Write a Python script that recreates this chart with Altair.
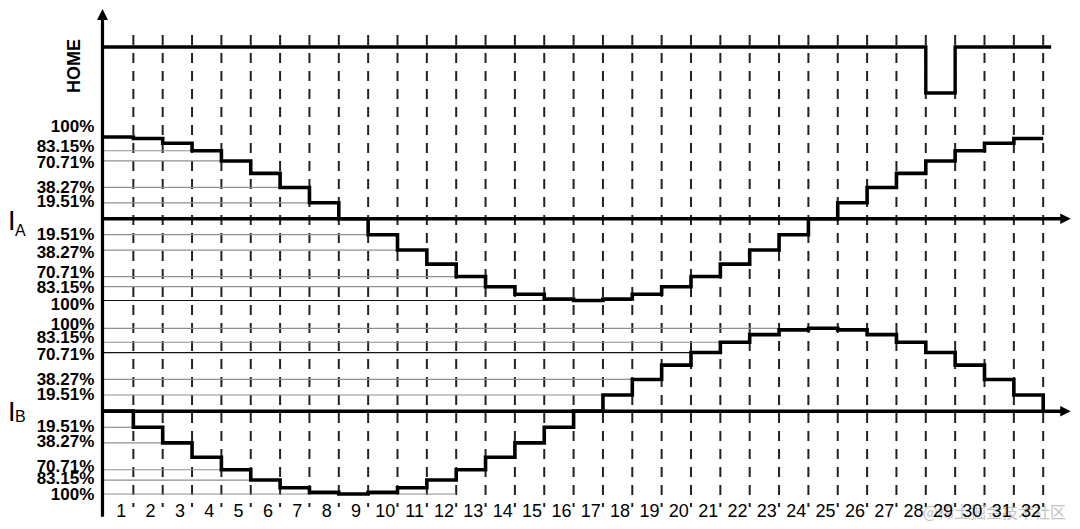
import altair as alt
import pandas as pd

# ---------------- data ----------------
steps = list(range(1, 33))
step_labels = [str(s) for s in steps]

home_level = [1] * 28 + [0] + [1] * 3

ia_pct = [100, 98.08, 92.39, 83.15, 70.71, 55.56, 38.27, 19.51, 0,
          -19.51, -38.27, -55.56, -70.71, -83.15, -92.39, -98.08, -100,
          -98.08, -92.39, -83.15, -70.71, -55.56, -38.27, -19.51, 0,
          19.51, 38.27, 55.56, 70.71, 83.15, 92.39, 98.08]
ib_pct = [0, -19.51, -38.27, -55.56, -70.71, -83.15, -92.39, -98.08, -100,
          -98.08, -92.39, -83.15, -70.71, -55.56, -38.27, -19.51, 0,
          19.51, 38.27, 55.56, 70.71, 83.15, 92.39, 98.08, 100,
          98.08, 92.39, 83.15, 70.71, 55.56, 38.27, 19.51]

level_values = [100, 83.15, 70.71, 38.27, 19.51, -19.51, -38.27, -70.71, -83.15, -100]
level_labels = ["100%", "83.15%", "70.71%", "38.27%", "19.51%",
                "19.51%", "38.27%", "70.71%", "83.15%", "100%"]

# reference lines: level and the step boundary where each one stops
ia_grid_levels = [83.15, 70.71, 38.27, 19.51, -19.51, -38.27, -70.71, -83.15, -100]
ia_grid_end = [3, 4, 6, 7, 9, 10, 12, 13, 18]
ib_grid_levels = [100, 83.15, 70.71, 38.27, 19.51, -19.51, -38.27, -70.71, -83.15, -100]
ib_grid_end = [23, 21, 20, 18, 17, 1, 2, 4, 5, 12]

# ---------------- layout / style ----------------
W, H = 1064, 513
X = alt.Scale(domain=[-3.2709, 32.9813], nice=False, zero=False)
DOM_H = [-9.30435, 1.84783]
DOM_A = [-369.725, 257.798]
DOM_B = [-132.59, 486.6]
PPU_A = 0.8175
PPU_B = 0.8285
# pixel nudges of the percent labels (label centre minus line)
nudge_a = [-10.3, -3.8, 2.1, 0.5, -0.8, 0.3, 2.7, -3.3, 1.0, 4.5]
nudge_b = [-3.3, -4.0, 2.4, 0.6, 0.0, -0.6, -1.2, -3.0, -0.7, 1.0]

FONT = "Liberation Sans"


def ys(dom):
    return alt.Scale(domain=dom, nice=False, zero=False)


one = pd.DataFrame({"d": [0]})

home_df = pd.DataFrame({
    "x": [s - 1 for s in steps] + [32, 32.27],
    "v": home_level + [home_level[-1], home_level[-1]],
})
ia_df = pd.DataFrame({"x": [s - 1 for s in steps] + [32], "v": ia_pct + [ia_pct[-1]]})
ib_df = pd.DataFrame({"x": [s - 1 for s in steps] + [32], "v": ib_pct + [0]})

bound_df = pd.DataFrame({"k": steps})
num_df = pd.DataFrame({"c": [s - 0.5 for s in steps], "num": step_labels})

ia_grid = pd.DataFrame({"level": ia_grid_levels, "end": ia_grid_end, "x0": 0})
ib_grid = pd.DataFrame({"level": ib_grid_levels, "end": ib_grid_end, "x0": 0})

lab_a = pd.DataFrame({"lab": level_labels,
                      "ly": [v - n / PPU_A for v, n in zip(level_values, nudge_a)]})
lab_b = pd.DataFrame({"lab": level_labels,
                      "ly": [v - n / PPU_B for v, n in zip(level_values, nudge_b)]})

layers = []

# dashed step boundaries
layers.append(
    alt.Chart(bound_df).mark_rule(strokeDash=[10, 8], strokeWidth=2, color="#222222")
    .encode(x=alt.X("k:Q", scale=X, axis=None), y=alt.value(27), y2=alt.value(499))
)

# grid lines
layers.append(
    alt.Chart(ia_grid).mark_rule(strokeWidth=1.2)
    .encode(x=alt.X("x0:Q", scale=X, axis=None), x2="end:Q",
            y=alt.Y("level:Q", scale=ys(DOM_A), axis=None),
            color=alt.condition("datum.level == -100", alt.value("#111111"), alt.value("#909090")))
)
layers.append(
    alt.Chart(ib_grid).mark_rule(strokeWidth=1.2)
    .encode(x=alt.X("x0:Q", scale=X, axis=None), x2="end:Q",
            y=alt.Y("level:Q", scale=ys(DOM_B), axis=None),
            color=alt.condition("datum.level == 70.71", alt.value("#111111"), alt.value("#909090")))
)

# horizontal axes of I_A and I_B
layers.append(
    alt.Chart(pd.DataFrame({"level": [0]})).mark_rule(strokeWidth=3.5, color="black")
    .encode(x=alt.value(93), x2=alt.value(1055),
            y=alt.Y("level:Q", scale=ys(DOM_A), axis=None))
)
layers.append(
    alt.Chart(pd.DataFrame({"level": [0]})).mark_rule(strokeWidth=3.5, color="black")
    .encode(x=alt.value(93), x2=alt.value(1055),
            y=alt.Y("level:Q", scale=ys(DOM_B), axis=None))
)

# left vertical axis
layers.append(
    alt.Chart(one).mark_rule(strokeWidth=3.2, color="black")
    .encode(x=alt.value(94.5), y=alt.value(10), y2=alt.value(508.7))
)

# arrow heads
layers.append(
    alt.Chart(one).mark_point(shape="M -1 1 L 0 -1 L 1 1 Z", filled=True, opacity=1,
                              color="black", size=121)
    .encode(x=alt.value(94.5), y=alt.value(6.5))
)
layers.append(
    alt.Chart(one).mark_point(shape="M -1 -1 L 1 0 L -1 1 Z", filled=True, opacity=1,
                              color="black", size=110)
    .encode(x=alt.value(1057.5), y=alt.value(210.75))
)
layers.append(
    alt.Chart(one).mark_point(shape="M -1 -1 L 1 0 L -1 1 Z", filled=True, opacity=1,
                              color="black", size=110)
    .encode(x=alt.value(1057.5), y=alt.value(403.15))
)

# traces
layers.append(
    alt.Chart(home_df).mark_line(interpolate="step-after", color="black", strokeWidth=3.4,
                                 strokeCap="butt")
    .encode(x=alt.X("x:Q", scale=X, axis=None), y=alt.Y("v:Q", scale=ys(DOM_H), axis=None))
)
layers.append(
    alt.Chart(ia_df).mark_line(interpolate="step-after", color="black", strokeWidth=3.6,
                               strokeCap="butt")
    .encode(x=alt.X("x:Q", scale=X, axis=None), y=alt.Y("v:Q", scale=ys(DOM_A), axis=None))
)
layers.append(
    alt.Chart(ib_df).mark_line(interpolate="step-after", color="black", strokeWidth=3.6,
                               strokeCap="butt")
    .encode(x=alt.X("x:Q", scale=X, axis=None), y=alt.Y("v:Q", scale=ys(DOM_B), axis=None))
)

# percent labels
layers.append(
    alt.Chart(lab_a).mark_text(align="right", baseline="middle", font=FONT, fontWeight="bold",
                               fontSize=17, color="black")
    .encode(x=alt.value(86.3), y=alt.Y("ly:Q", scale=ys(DOM_A), axis=None), text="lab:N")
)
layers.append(
    alt.Chart(lab_b).mark_text(align="right", baseline="middle", font=FONT, fontWeight="bold",
                               fontSize=17, color="black")
    .encode(x=alt.value(86.3), y=alt.Y("ly:Q", scale=ys(DOM_B), axis=None), text="lab:N")
)

# watermark (below the step numbers)
layers.append(
    alt.Chart(one).mark_text(align="right", baseline="middle", font="Noto Sans CJK SC",
                             fontSize=16, color="#c4c4c4")
    .encode(x=alt.value(1058), y=alt.value(505), text=alt.value("@稀土掘金技术社区"))
)

# step numbers
layers.append(
    alt.Chart(num_df).mark_text(baseline="alphabetic", align="center", font=FONT,
                                fontSize=18, dx=2.5, color="black")
    .encode(x=alt.X("c:Q", scale=X, axis=None), y=alt.value(508.5), text="num:N")
)

# titles
layers.append(
    alt.Chart(one).mark_text(angle=270, align="center", baseline="middle", font=FONT,
                             fontWeight="bold", fontSize=18, color="black")
    .encode(x=alt.value(67), y=alt.value(58), text=alt.value("HOME"))
)
for big_y, sub_y, sub in [(222, 227.5, "A"), (412.5, 414, "B")]:
    layers.append(
        alt.Chart(one).mark_text(align="left", baseline="alphabetic", font=FONT,
                                 fontSize=27, color="black")
        .encode(x=alt.value(0), y=alt.value(big_y), text=alt.value("I"))
    )
    layers.append(
        alt.Chart(one).mark_text(align="left", baseline="alphabetic", font=FONT,
                                 fontSize=16, color="black")
        .encode(x=alt.value(7), y=alt.value(sub_y), text=alt.value(sub))
    )

chart = (
    alt.layer(*layers)
    .resolve_scale(y="independent")
    .properties(width=W, height=H, padding=0,
                autosize=alt.AutoSizeParams(type="none"), background="white")
    .configure_view(stroke=None)
)

chart.save("out.html", embed_options={"renderer": "svg", "actions": False})
